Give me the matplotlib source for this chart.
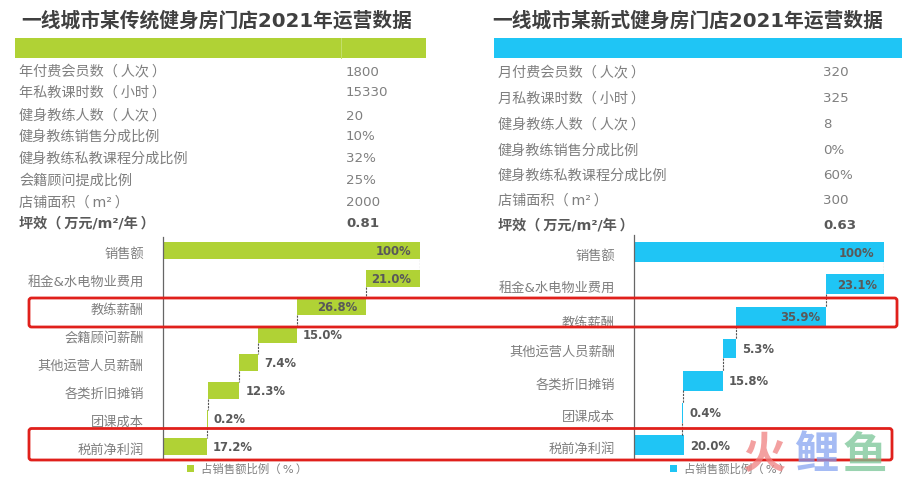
# -*- coding: utf-8 -*-
from matplotlib import pyplot as plt
from matplotlib.patches import FancyBboxPatch, Rectangle
from matplotlib.transforms import ScaledTranslation

plt.rcParams['font.family'] = ['DejaVu Sans', 'Noto Sans CJK SC']

GREEN = '#b0d235'
BLUE = '#1fc5f5'
GREY = '#7f7f7f'
DARK = '#595959'

W, H = 911, 481

title_a = '一线城市某传统健身房门店2021年运营数据'
rows_a = ['年付费会员数（\u2009人次\u2009）', '年私教课时数（\u2009小时\u2009）', '健身教练人数（\u2009人次\u2009）', '健身教练销售分成比例',
          '健身教练私教课程分成比例', '会籍顾问提成比例', '店铺面积（\u2009m²\u2009）', '坪效（\u2009万元/m²/年\u2009）']
table_a = ['1800', '15330', '20', '10%', '32%', '25%', '2000', '0.81']
cats_a = ['销售额', '租金&水电物业费用', '教练薪酬', '会籍顾问薪酬', '其他运营人员薪酬',
          '各类折旧摊销', '团课成本', '税前净利润']
vals_a = [100, 21.0, 26.8, 15.0, 7.4, 12.3, 0.2, 17.2]

title_b = '一线城市某新式健身房门店2021年运营数据'
rows_b = ['月付费会员数（\u2009人次\u2009）', '月私教课时数（\u2009小时\u2009）', '健身教练人数（\u2009人次\u2009）', '健身教练销售分成比例',
          '健身教练私教课程分成比例', '店铺面积（\u2009m²\u2009）', '坪效（\u2009万元/m²/年\u2009）']
table_b = ['320', '325', '8', '0%', '60%', '300', '0.63']
cats_b = ['销售额', '租金&水电物业费用', '教练薪酬', '其他运营人员薪酬',
          '各类折旧摊销', '团课成本', '税前净利润']
vals_b = [100, 23.1, 35.9, 5.3, 15.8, 0.4, 20.0]

legend_label = '占销售额比例（\u2009%\u2009）'


def waterfall(fig, cats, vals, color, box, ylim, inside_pad):
    # box em pixels: x esquerda, x direita, y topo, y base
    x0, x1, y0, y1 = box
    ax = fig.add_axes([x0 / W, 1 - y1 / H, (x1 - x0) / W, (y1 - y0) / H])
    px = (x1 - x0) / 100.0
    n = len(vals)

    # inicio de cada barra: desce a partir do total, a ultima parte do zero
    lefts = [0.0]
    level = vals[0]
    for v in vals[1:-1]:
        level = level - v
        lefts.append(level)
    lefts.append(0.0)
    ax.barh(range(n), vals, left=lefts, height=0.61, color=color)

    # ligacao tracejada entre as barras
    for i in range(n - 1):
        x = lefts[i] if i > 0 else 100
        ax.plot([x, x], [i + 0.3, i + 0.7], color='#555555', lw=0.8, ls=(0, (2, 1)))

    for i in range(n):
        right = lefts[i] + vals[i]
        text = '100%' if i == 0 else '%.1f%%' % vals[i]
        if i < 3:
            ax.text(right - inside_pad[i] / px, i, text, ha='right', va='center',
                    fontsize=8.4, fontweight='bold', color=DARK, clip_on=False)
        else:
            ax.text(right + 6 / px, i, text, ha='left', va='center',
                    fontsize=8.4, fontweight='bold', color=DARK, clip_on=False)

    ax.set_xlim(0, 100)
    ax.set_ylim(ylim)
    ax.set_yticks(range(n))
    ax.set_yticklabels(cats, fontsize=9.5, color=GREY)
    ax.tick_params(axis='y', length=0, pad=13.5)
    ax.set_xticks([])
    for s in ['top', 'right', 'bottom']:
        ax.spines[s].set_visible(False)
    ax.spines['left'].set_color('#666666')
    ax.spines['left'].set_linewidth(0.9)
    # rotulos ficam um pouco abaixo do centro da barra
    for lab in ax.get_yticklabels():
        lab.set_transform(lab.get_transform() + ScaledTranslation(0, -1 / 72, fig.dpi_scale_trans))
    return ax


def table(ov, title, rows, values, color, title_x, strip, ys, x_lab, x_val):
    ov.text(title_x, 21, title, fontsize=14.2, fontweight='bold', color='#404040', ha='left', va='center')
    ov.add_patch(Rectangle((strip[0], 39), strip[1] - strip[0], 20, color=color, lw=0))
    for y, r, v in zip(ys, rows, values):
        bold = r.startswith('坪效')
        ov.text(x_lab, y + 1, r, fontsize=10.2, color=DARK if bold else GREY, ha='left', va='center',
                fontweight='bold' if bold else 'normal')
        ov.text(x_val, y + 1, v, fontsize=9.6, color=DARK if bold else GREY, ha='left', va='center',
                fontweight='bold' if bold else 'normal')


fig = plt.figure(figsize=(W / 100, H / 100), dpi=100, facecolor='white')

waterfall(fig, cats_a, vals_a, GREEN, (162.5, 420.3, 238, 460), (7.455, -0.5), [9, 9, 9])
ax_b = waterfall(fig, cats_b, vals_b, BLUE, (633.7, 883.7, 236, 460), (6.43, -0.53), [9, 7, 6])

# no original o rotulo "教练薪酬" da direita esta mais abaixo ainda
lab = ax_b.get_yticklabels()[2]
lab.set_transform(lab.get_transform() + ScaledTranslation(0, -2 / 72, fig.dpi_scale_trans))

# camada por cima em pixels para tabela, molduras e legenda
ov = fig.add_axes([0, 0, 1, 1], facecolor='none')
ov.set_xlim(0, W)
ov.set_ylim(H, 0)
ov.axis('off')

table(ov, title_a, rows_a, table_a, GREEN, 21, (14.5, 426), [71, 92, 115, 136, 158, 180, 202, 223], 19, 346)
table(ov, title_b, rows_b, table_b, BLUE, 492, (494, 901.5), [72, 98, 124, 150, 175, 200, 225], 498, 823)
ov.plot([341, 341], [39, 59], color='#c4df6c', lw=0.7)

# molduras vermelhas
for (x, y, w, h) in [(29, 299, 868, 29), (29, 429.5, 863, 31.5)]:
    ov.add_patch(FancyBboxPatch((x, y), w, h, boxstyle='round,pad=0,rounding_size=2.5',
                                fc='none', ec='#e0201b', lw=2.0, zorder=5))

# legendas
ov.add_patch(Rectangle((187, 466), 6.5, 6.5, color=GREEN, lw=0))
ov.text(201, 469.5, legend_label, fontsize=8.2, color=GREY, va='center', ha='left')
ov.add_patch(Rectangle((670, 466), 6.5, 6.5, color=BLUE, lw=0))
ov.text(684, 469.5, legend_label, fontsize=8.2, color=GREY, va='center', ha='left')

# marca d'agua
ov.text(764, 456, '火', fontsize=31, fontweight='bold', color='#f08080', alpha=0.75, ha='center', va='center', zorder=6)
ov.text(816, 456, '鲤', fontsize=32, fontweight='bold', color='#7f9ff0', alpha=0.7, ha='center', va='center', zorder=6)
ov.text(865, 456, '鱼', fontsize=32, fontweight='bold', color='#79c596', alpha=0.75, ha='center', va='center', zorder=6)

plt.savefig('out.png', dpi=100)
